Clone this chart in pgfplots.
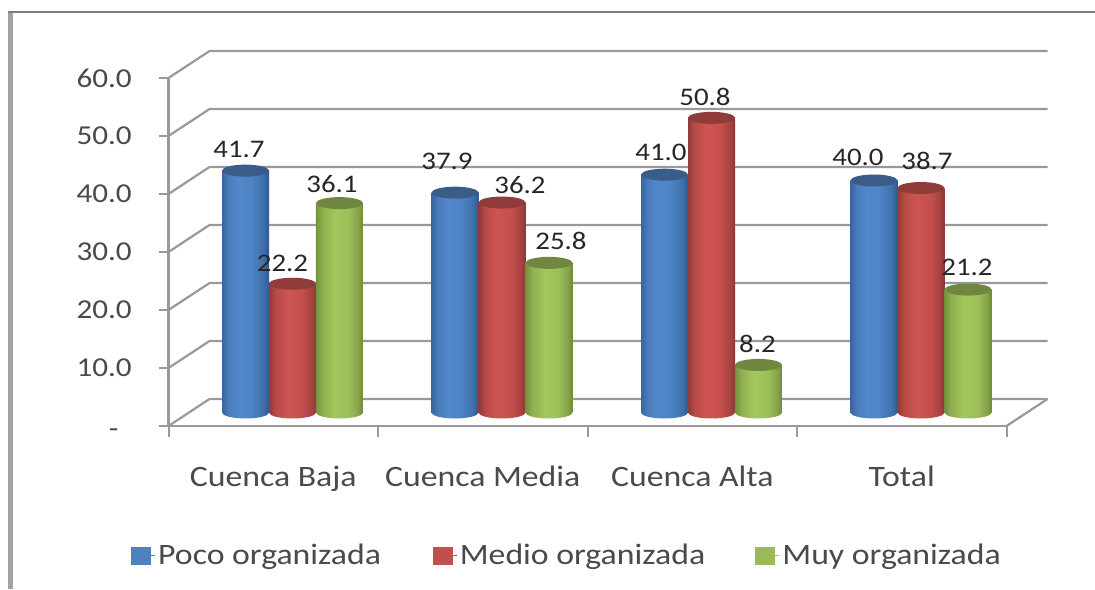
\documentclass[border=0pt]{standalone}
\usepackage{pgfplots}
\usepackage{fontspec}
\pgfplotsset{compat=1.18}
\setmainfont[FakeStretch=1.14]{Carlito}
\newdimen\px \px=0.75pt
\definecolor{gridc}{HTML}{999999}
\definecolor{txt}{HTML}{4A4A4A}
\definecolor{lab}{HTML}{262626}
\definecolor{cblue}{HTML}{4F81BD}
\definecolor{cred}{HTML}{C0504D}
\definecolor{cgreen}{HTML}{9BBB59}
\pgfdeclarehorizontalshading{cylblue}{100bp}{rgb(0bp)=(0.22,0.40,0.62); rgb(25bp)=(0.22,0.40,0.62); rgb(32bp)=(0.29,0.49,0.73); rgb(42bp)=(0.32,0.53,0.80); rgb(55bp)=(0.31,0.52,0.78); rgb(68bp)=(0.25,0.45,0.68); rgb(75bp)=(0.18,0.35,0.56); rgb(100bp)=(0.18,0.35,0.56)}
\pgfdeclarehorizontalshading{cylred}{100bp}{rgb(0bp)=(0.56,0.23,0.22); rgb(25bp)=(0.56,0.23,0.22); rgb(32bp)=(0.72,0.29,0.28); rgb(45bp)=(0.81,0.33,0.32); rgb(60bp)=(0.77,0.31,0.30); rgb(70bp)=(0.65,0.26,0.25); rgb(75bp)=(0.54,0.22,0.21); rgb(100bp)=(0.54,0.22,0.21)}
\pgfdeclarehorizontalshading{cylgreen}{100bp}{rgb(0bp)=(0.46,0.57,0.24); rgb(25bp)=(0.46,0.57,0.24); rgb(32bp)=(0.56,0.69,0.31); rgb(45bp)=(0.64,0.78,0.36); rgb(60bp)=(0.61,0.75,0.35); rgb(70bp)=(0.52,0.64,0.29); rgb(75bp)=(0.44,0.54,0.22); rgb(100bp)=(0.44,0.54,0.22)}
\pgfdeclareplotmark{cyltop}{\pgfpathellipse{\pgfpointorigin}{\pgfqpoint{23.5\px}{0pt}}{\pgfqpoint{0pt}{6\px}}\pgfusepathqfill}
\pgfdeclareplotmark{bascylblue}{\pgfpathellipse{\pgfpointorigin}{\pgfqpoint{23.5\px}{0pt}}{\pgfqpoint{0pt}{6\px}}\pgfshadepath{cylblue}{0}\pgfusepath{discard}}
\pgfdeclareplotmark{bascylred}{\pgfpathellipse{\pgfpointorigin}{\pgfqpoint{23.5\px}{0pt}}{\pgfqpoint{0pt}{6\px}}\pgfshadepath{cylred}{0}\pgfusepath{discard}}
\pgfdeclareplotmark{bascylgreen}{\pgfpathellipse{\pgfpointorigin}{\pgfqpoint{23.5\px}{0pt}}{\pgfqpoint{0pt}{6\px}}\pgfshadepath{cylgreen}{0}\pgfusepath{discard}}
\newcommand\fnt{\fontsize{20.5}{24}\selectfont}
\newcommand\fntb{\fontsize{22.2}{26}\selectfont}
\newcommand\fntc{\fontsize{19}{23}\selectfont}
\pgfplotsset{
  lbl/.style n args={2}{draw=none, mark=none, forget plot,
    point meta=y,
    nodes near coords={\pgfmathprintnumber[fixed,fixed zerofill,precision=1,assume math mode=true]{\pgfplotspointmeta}},
    every node near coord/.append style={font=\fntc,text=lab,anchor=center,inner sep=0pt,xshift=#1*0.75pt,yshift=#2*0.75pt}},
  cyl/.style={ybar, bar width=35.25pt, bar shift=0pt, draw=none, shade, shading=#1, forget plot},
  swatch/.style={legend image code/.code={\fill[##1] (0pt,-6.4pt) rectangle (14.25pt,6.4pt);\path (0pt,0pt) -- (18pt,0pt);}}
}
% one cylinder: shading, top colour, x, value
\newcommand\cylinder[4]{%
  \addplot[only marks,mark=bas#1,forget plot] coordinates {(#3,0)};
  \addplot[cyl=#1] coordinates {(#3,#4)};
  \addplot[only marks,mark=cyltop,forget plot,color=#2] coordinates {(#3,#4)};
}
\colorlet{tb}{cblue!72!black}
\colorlet{tr}{cred!75!black}
\colorlet{tg}{cgreen!72!black}
\begin{document}
\begin{tikzpicture}
\path[use as bounding box] (0,0) rectangle (1095\px,589\px);
\fill[white] (0,0) rectangle (1095\px,589\px);
\draw[line width=5\px,color=gridc!90] (10.5\px,0) -- (10.5\px,577\px);
\draw[line width=2\px,color=gray] (8\px,577\px) -- (1095\px,577\px);
\begin{axis}[
  at={(168.5\px,163\px)}, anchor=south west, scale only axis,
  width=628.5pt, height=261pt, clip=false,
  xmin=0, xmax=4, ymin=0, ymax=60,
  axis lines=left, axis line style={-,line width=1.65pt,color=gridc},
  xtick={0.5,1.5,2.5,3.5},
  xticklabels={Cuenca Baja,Cuenca Media,Cuenca Alta,Total},
  minor xtick={0,1,2,3,4},
  ytick={0,10,20,30,40,50,60},
  yticklabels={\raisebox{-8.5pt}[0pt][0pt]{-}\kern 10pt,10.0,20.0,30.0,40.0,50.0,60.0},
  tick align=outside,
  major tick length=7.5pt, minor tick length=8.25pt,
  tick style={line width=1.5pt,color=gridc},
  major x tick style={draw=none},
  xticklabel style={font=\fntb,text=txt,yshift=-19pt},
  yticklabel style={font=\fnt,text=txt,anchor=east,xshift=-16.5pt},
]
\addplot[gridc,line width=1.65pt] coordinates {(0,0)(0.1957,4.655)(4.1957,4.655)};
\addplot[gridc,line width=1.65pt] coordinates {(0,10)(0.1957,14.655)(4.1957,14.655)};
\addplot[gridc,line width=1.65pt] coordinates {(0,20)(0.1957,24.655)(4.1957,24.655)};
\addplot[gridc,line width=1.65pt] coordinates {(0,30)(0.1957,34.655)(4.1957,34.655)};
\addplot[gridc,line width=1.65pt] coordinates {(0,40)(0.1957,44.655)(4.1957,44.655)};
\addplot[gridc,line width=1.65pt] coordinates {(0,50)(0.1957,54.655)(4.1957,54.655)};
\addplot[gridc,line width=1.65pt] coordinates {(0,60)(0.1957,64.655)(4.1957,64.655)};
\addplot[gridc,line width=1.65pt] coordinates {(4,0)(4.1957,4.655)};
\end{axis}
\begin{axis}[
  at={(187.75\px,176.5\px)}, anchor=south west, scale only axis,
  width=628.5pt, height=261pt, clip=false, hide axis,
  xmin=0, xmax=4, ymin=0, ymax=60,
  legend style={at={(-42.75pt,-107.25pt)},anchor=west,legend columns=3,draw=none,fill=none,
    font=\fntb,text=txt,inner sep=0pt,
    /tikz/every even column/.style={column sep=4.5pt},
    /tikz/every odd column/.style={column sep=0pt}},
]
\cylinder{cylblue}{tb}{0.2757}{41.7}
\cylinder{cylblue}{tb}{1.2757}{37.9}
\cylinder{cylblue}{tb}{2.2757}{41.0}
\cylinder{cylblue}{tb}{3.2757}{40.0}
\cylinder{cylred}{tr}{0.5}{22.2}
\cylinder{cylred}{tr}{1.5}{36.2}
\cylinder{cylred}{tr}{2.5}{50.8}
\cylinder{cylred}{tr}{3.5}{38.7}
\cylinder{cylgreen}{tg}{0.7243}{36.1}
\cylinder{cylgreen}{tg}{1.7243}{25.8}
\cylinder{cylgreen}{tg}{2.7243}{8.2}
\cylinder{cylgreen}{tg}{3.7243}{21.2}
\addplot[lbl={-6.5}{21}] coordinates {(0.2757,41.7)};
\addplot[lbl={-8}{31}] coordinates {(1.2757,37.9)};
\addplot[lbl={-3.5}{22}] coordinates {(2.2757,41.0)};
\addplot[lbl={-16}{23}] coordinates {(3.2757,40.0)};
\addplot[lbl={-10}{20}] coordinates {(0.5,22.2)};
\addplot[lbl={18}{17}] coordinates {(1.5,36.2)};
\addplot[lbl={-6.5}{21}] coordinates {(2.5,50.8)};
\addplot[lbl={6}{27}] coordinates {(3.5,38.7)};
\addplot[lbl={-7.5}{19}] coordinates {(0.7243,36.1)};
\addplot[lbl={12}{22}] coordinates {(1.7243,25.8)};
\addplot[lbl={-1}{21}] coordinates {(2.7243,8.2)};
\addplot[lbl={-1}{22}] coordinates {(3.7243,21.2)};
\addlegendimage{swatch,cblue}\addlegendentry{Poco organizada\kern 32.25pt}
\addlegendimage{swatch,cred}\addlegendentry{Medio organizada\kern 31pt}
\addlegendimage{swatch,cgreen}\addlegendentry{Muy organizada}
\end{axis}
\end{tikzpicture}
\end{document}
